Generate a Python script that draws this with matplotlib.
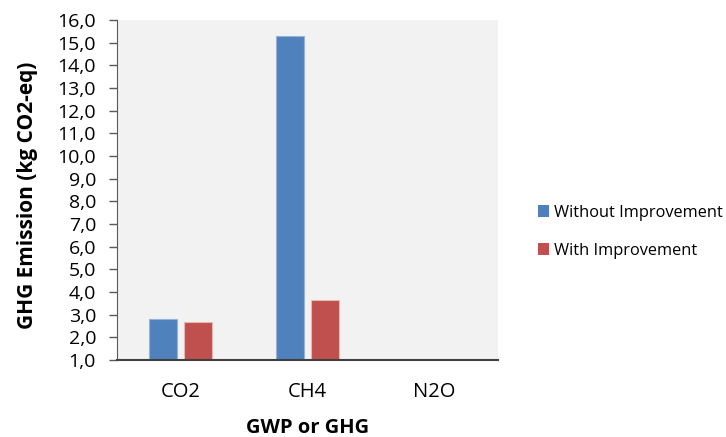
import numpy as np
import matplotlib.pyplot as plt
from matplotlib.ticker import FuncFormatter, MultipleLocator
from matplotlib.patches import Patch

plt.rcParams['font.family'] = ['Open Sans', 'DejaVu Sans']

categories = ['CO2', 'CH4', 'N2O']
without_impr = [2.80, 15.29, 0.02]
with_impr = [2.69, 3.65, 0.01]
series_names = ['Without Improvement', 'With Improvement']

blue = '#4F81BD'
red = '#C0504D'

fig = plt.figure(figsize=(7.26, 4.37), dpi=100)
ax = fig.add_axes([0.161, 0.176, 0.525, 0.778])
ax.set_facecolor('#F2F2F2')

x = np.arange(len(categories))
w = 0.22
ax.bar(x - 0.1375, without_impr, w, color=blue, edgecolor='#95B3D7', linewidth=0.8)
ax.bar(x + 0.1375, with_impr, w, color=red, edgecolor='#E6B9B8', linewidth=0.8)

ax.set_xlim(-0.5, 2.5)
ax.set_ylim(1, 16)
ax.yaxis.set_major_locator(MultipleLocator(1))
ax.yaxis.set_major_formatter(FuncFormatter(lambda v, p: f'{v:.1f}'.replace('.', ',')))
ax.set_xticks(x)
ax.set_xticklabels(categories)
ax.tick_params(axis='x', length=0, pad=16, labelsize=14.5)
ax.tick_params(axis='y', length=6, width=1, color='#595959', labelsize=14, pad=9)

for s in ['top', 'right']:
    ax.spines[s].set_visible(False)
ax.spines['left'].set_color('#595959')
ax.spines['bottom'].set_color('#404040')
ax.spines['bottom'].set_linewidth(1.5)

ax.set_xlabel('GWP or GHG', fontsize=14.5, fontweight='bold', labelpad=11)
ax.set_ylabel('GHG Emission (kg CO2-eq)', fontsize=15, fontweight='bold')
ax.yaxis.set_label_coords(-0.207, 0.485)

handles = [Patch(facecolor=blue), Patch(facecolor=red)]
fig.legend(handles, series_names, loc='upper left', bbox_to_anchor=(0.732, 0.547),
           frameon=False, fontsize=11.8, handlelength=0.7, handleheight=0.7,
           handletextpad=0.25, labelspacing=1.35, borderaxespad=0)

fig.savefig('out.png', dpi=100)
